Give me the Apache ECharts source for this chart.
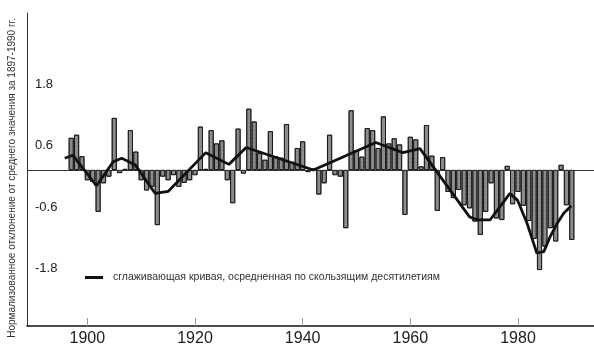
<!DOCTYPE html>
<html>
<head>
<meta charset="utf-8">
<script src="https://cdn.jsdelivr.net/npm/echarts@6/dist/echarts.min.js"></script>
<style>html,body{margin:0;padding:0;background:#fff}#c{width:594px;height:354px}</style>
</head>
<body>
<div id="c"></div>
<script>
const startYear = 1897;
const endYear = 1990;
// normalised anomalies, one per year 1897..1990
const anomalies = [
  0.63, 0.69, 0.27, -0.20, -0.23, -0.82, -0.26, -0.13, 1.02, -0.06,   // 1897-1906
  0.02, 0.78, 0.36, -0.20, -0.40, -0.33, -1.08, -0.13, -0.20, -0.10,  // 1907-1916
  -0.33, -0.25, -0.20, -0.10, 0.85, 0.02, 0.78, 0.52, 0.58, -0.20,    // 1917-1926
  -0.65, 0.81, -0.07, 1.20, 0.95, 0.33, 0.20, 0.76, 0.27, 0.24,       // 1927-1936
  0.90, 0.16, 0.43, 0.56, -0.04, 0.03, -0.48, -0.26, 0.69, -0.10,     // 1937-1946
  -0.13, -1.14, 1.17, 0.39, 0.26, 0.82, 0.78, 0.43, 1.05, 0.52,       // 1947-1956
  0.62, 0.50, -0.88, 0.65, 0.60, 0.07, 0.88, 0.28, -0.80, 0.25,       // 1957-1966
  -0.43, -0.55, -0.39, -0.69, -0.75, -1.01, -1.27, -0.82, -0.26, -0.95,// 1967-1976
  -0.98, 0.08, -0.67, -0.43, -0.70, -1.00, -1.35, -1.96, -1.50, -1.14,// 1977-1986
  -1.40, 0.10, -0.69, -1.37                                           // 1987-1990
];
// smoothed curve (moving decades) vertices
const smoothYears  = [1895.8, 1897.3, 1901.7, 1904.8, 1906.4, 1908.9, 1912.6, 1915.0, 1922.0, 1926.3, 1929.5, 1942.0, 1953.6, 1958.6, 1961.8, 1971.0, 1972.5, 1974.8, 1978.5, 1979.9, 1981.7, 1983.5, 1984.8, 1986.0, 1987.2, 1988.5, 1989.9];
const smoothValues = [0.23, 0.29, -0.31, 0.16, 0.23, 0.10, -0.46, -0.42, 0.34, 0.11, 0.44, 0.00, 0.54, 0.34, 0.42, -0.92, -0.98, -0.98, -0.46, -0.59, -1.05, -1.63, -1.60, -1.30, -1.06, -0.85, -0.70];
const xTickLabels = [1900, 1920, 1940, 1960, 1980];
const yTickLabels = [-1.8, -0.6, 0.6, 1.8];
const lineName = 'сглаживающая кривая, осредненная по скользящим десятилетиям';
const yTitle = 'Нормализованное отклонение от среднего значения за 1897-1990 гг.';

const years = [];
for (let y = startYear; y <= endYear; y++) years.push(y);
const barData = years.map((y, i) => [y, anomalies[i]]);
const lineData = smoothYears.map((y, i) => [y, smoothValues[i]]);

const FONT = '"Liberation Sans", Arial, sans-serif';
const chart = echarts.init(document.getElementById('c'), null, {renderer: 'canvas'});
chart.setOption({
  animation: false,
  backgroundColor: '#ffffff',
  grid: {left: 27, right: 0, top: 13, bottom: 28},
  xAxis: {
    type: 'value', min: 1888.79, max: 1994.12,
    axisLine: {show: true, onZero: false, lineStyle: {color: '#111', width: 1.5}},
    axisTick: {show: true, inside: true, length: 8, customValues: xTickLabels, lineStyle: {color: '#999', width: 1}},
    axisLabel: {customValues: xTickLabels, fontSize: 16, color: '#222', margin: 5, fontFamily: FONT, formatter: v => String(v)},
    splitLine: {show: false}
  },
  yAxis: {
    type: 'value', min: -3.059, max: 3.078,
    axisLine: {show: true, onZero: false, lineStyle: {color: '#333', width: 1}},
    axisTick: {show: false},
    axisLabel: {inside: true, customValues: yTickLabels, margin: 8, fontSize: 13, color: '#222', fontFamily: FONT, verticalAlign: 'top', formatter: v => v.toFixed(1)},
    splitLine: {show: false}
  },
  legend: {
    data: [lineName], left: 80, top: 267, icon: 'rect', itemWidth: 18, itemHeight: 3,
    textStyle: {fontSize: 10.5, color: '#333', fontFamily: FONT, padding: [0, 0, 0, 5]}
  },
  graphic: [{
    type: 'text', x: 12, y: 178, rotation: Math.PI / 2,
    style: {text: yTitle, fill: '#333', font: '10px ' + FONT, align: 'center', verticalAlign: 'middle'}
  }],
  series: [
    {
      type: 'bar', name: 'bars', data: barData, barWidth: 5,
      itemStyle: {
        color: '#8a8a8a', borderColor: '#111', borderWidth: 0.8,
        decal: {symbol: 'rect', symbolSize: 0.5, color: 'rgba(255,255,255,0.55)', dashArrayX: [1, 2], dashArrayY: [1, 3], rotation: 0}
      },
      markLine: {silent: true, symbol: ['none', 'none'], label: {show: false},
        lineStyle: {color: '#333', width: 1, type: 'solid'}, data: [{yAxis: 0}]}
    },
    {
      type: 'line', name: lineName, data: lineData, symbol: 'none', smooth: false, z: 5,
      lineStyle: {color: '#111', width: 2.8}, itemStyle: {color: '#111'}
    }
  ]
});
</script>
</body>
</html>
